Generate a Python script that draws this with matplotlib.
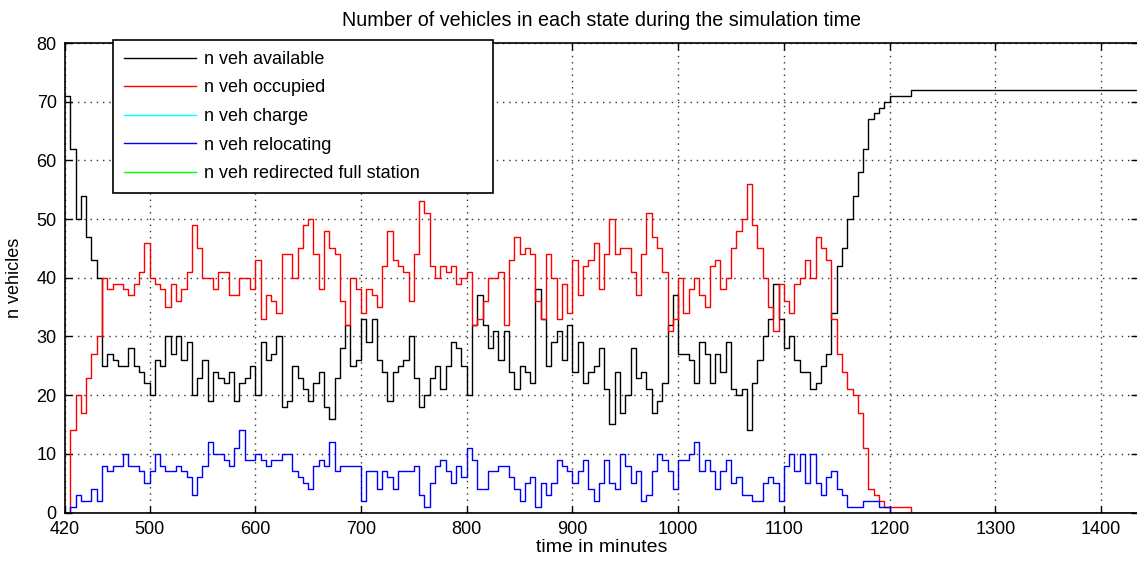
import numpy as np
import matplotlib
matplotlib.use("Agg")
from matplotlib import pyplot as plt

plt.rcParams['font.family'] = ['Liberation Sans', 'DejaVu Sans']

# time axis (minutes), sampled every 5 min while the fleet is active
minutes = list(range(420, 1221, 5)) + [1435]

n_available = [
    71, 62, 50, 54, 47, 43, 40, 25, 27, 26, 25, 25, 28, 25, 24, 22,
    20, 26, 25, 30, 27, 30, 26, 29, 20, 23, 26, 19, 24, 23, 22, 24,
    19, 22, 23, 25, 20, 29, 26, 27, 30, 18, 19, 25, 23, 21, 19, 22,
    24, 18, 16, 23, 28, 32, 25, 26, 33, 29, 33, 26, 24, 19, 24, 25,
    26, 30, 23, 18, 20, 23, 25, 21, 25, 29, 28, 25, 20, 32, 37, 32,
    28, 31, 26, 31, 24, 21, 25, 24, 22, 38, 33, 25, 29, 31, 26, 32,
    24, 29, 22, 24, 25, 28, 21, 15, 24, 17, 20, 28, 23, 24, 21, 17,
    19, 22, 32, 37, 27, 27, 26, 22, 29, 27, 22, 27, 24, 29, 21, 20,
    21, 14, 22, 26, 30, 33, 39, 33, 28, 30, 26, 24, 24, 21, 22, 25,
    27, 34, 42, 45, 50, 54, 58, 62, 67, 68, 69, 70, 71, 71, 71, 71,
    72, 72]

n_occupied = [
    0, 14, 20, 17, 23, 27, 30, 40, 38, 39, 39, 38, 37, 39, 41, 46,
    40, 39, 38, 35, 39, 36, 38, 41, 49, 45, 40, 40, 38, 41, 41, 37,
    37, 40, 40, 38, 43, 33, 37, 36, 34, 44, 44, 40, 45, 49, 50, 44,
    38, 48, 45, 44, 36, 32, 40, 38, 34, 38, 37, 35, 42, 48, 43, 42,
    41, 36, 44, 53, 51, 42, 40, 42, 41, 42, 39, 40, 41, 32, 33, 36,
    40, 40, 41, 32, 43, 47, 44, 45, 44, 36, 33, 44, 40, 33, 39, 34,
    43, 37, 42, 43, 46, 38, 44, 50, 44, 45, 45, 41, 37, 44, 51, 47,
    45, 41, 31, 33, 40, 34, 38, 40, 37, 35, 42, 43, 38, 40, 45, 48,
    50, 56, 49, 45, 40, 35, 31, 39, 36, 34, 39, 40, 43, 40, 47, 45,
    43, 33, 27, 24, 21, 20, 17, 11, 4, 3, 2, 1, 1, 1, 1, 1,
    0, 0]

n_relocating = [
    0, 1, 3, 2, 2, 4, 2, 8, 7, 8, 8, 10, 8, 8, 7, 5,
    7, 10, 8, 7, 7, 8, 7, 6, 3, 6, 8, 12, 10, 10, 9, 8,
    11, 14, 9, 9, 10, 9, 8, 9, 9, 10, 10, 7, 6, 5, 4, 8,
    9, 8, 12, 7, 8, 8, 8, 8, 2, 7, 7, 4, 7, 6, 4, 7,
    7, 7, 8, 3, 1, 5, 8, 9, 7, 5, 8, 6, 11, 9, 4, 4,
    7, 7, 8, 8, 6, 4, 2, 5, 6, 1, 5, 3, 5, 9, 8, 7,
    5, 7, 9, 4, 2, 5, 9, 5, 4, 10, 8, 5, 7, 2, 3, 7,
    10, 9, 7, 4, 9, 9, 10, 12, 7, 9, 7, 4, 7, 9, 5, 6,
    3, 3, 2, 2, 5, 6, 5, 2, 8, 10, 7, 10, 5, 10, 5, 3,
    6, 7, 4, 3, 1, 1, 1, 2, 2, 2, 1, 1, 0, 0, 0, 0,
    0, 0]

n_charge = [0] * len(minutes)
n_redirected = [0] * len(minutes)


fig = plt.figure(figsize=(11.37, 5.66), dpi=100)
ax = fig.add_axes([65/1137, 53.5/566, 1073/1137, 469.5/566])

ax.plot(minutes, n_charge, color=(0, 1, 1), lw=1.0, drawstyle='steps-post',
        zorder=1, label='n veh charge')
ax.plot(minutes, n_redirected, color=(0, 1, 0), lw=1.0, drawstyle='steps-post',
        zorder=1, label='n veh redirected full station')
ax.plot(minutes, n_available, color='k', lw=1.0, drawstyle='steps-post',
        label='n veh available')
ax.plot(minutes, n_occupied, color=(1, 0, 0), lw=1.0, drawstyle='steps-post',
        label='n veh occupied')
ax.plot(minutes, n_relocating, color=(0, 0, 1), lw=1.0, drawstyle='steps-post',
        label='n veh relocating')

ax.set_xlim(420, 1435)
ax.set_ylim(0, 80)
ax.set_xticks([420, 500, 600, 700, 800, 900, 1000, 1100, 1200, 1300, 1400])
ax.set_yticks(range(0, 81, 10))
ax.tick_params(direction='in', top=True, right=True, length=5, width=1,
               labelsize=13, pad=6)
ax.grid(True, color='#333333', linestyle=(0, (1, 3.5)), lw=1.0)
for s in ax.spines.values():
    s.set_linewidth(1.2)

ax.set_title('Number of vehicles in each state during the simulation time',
             fontsize=14.2, pad=12)
ax.set_xlabel('time in minutes', fontsize=14, labelpad=1)
ax.set_ylabel('n vehicles', fontsize=13, labelpad=10)

# legend order as in the original
h, l = ax.get_legend_handles_labels()
order = [2, 3, 0, 4, 1]
leg = ax.legend([h[i] for i in order], [l[i] for i in order],
                loc='upper left', bbox_to_anchor=(113/1137, 1-190/566, 380/1137, 150/566),
                bbox_transform=fig.transFigure, mode='expand', borderaxespad=0,
                fontsize=13, handlelength=4.0, handletextpad=0.45,
                labelspacing=0.64, borderpad=0.6, fancybox=False,
                framealpha=1, edgecolor='k')
leg.get_frame().set_linewidth(1.2)

fig.savefig('out.png', dpi=100)
